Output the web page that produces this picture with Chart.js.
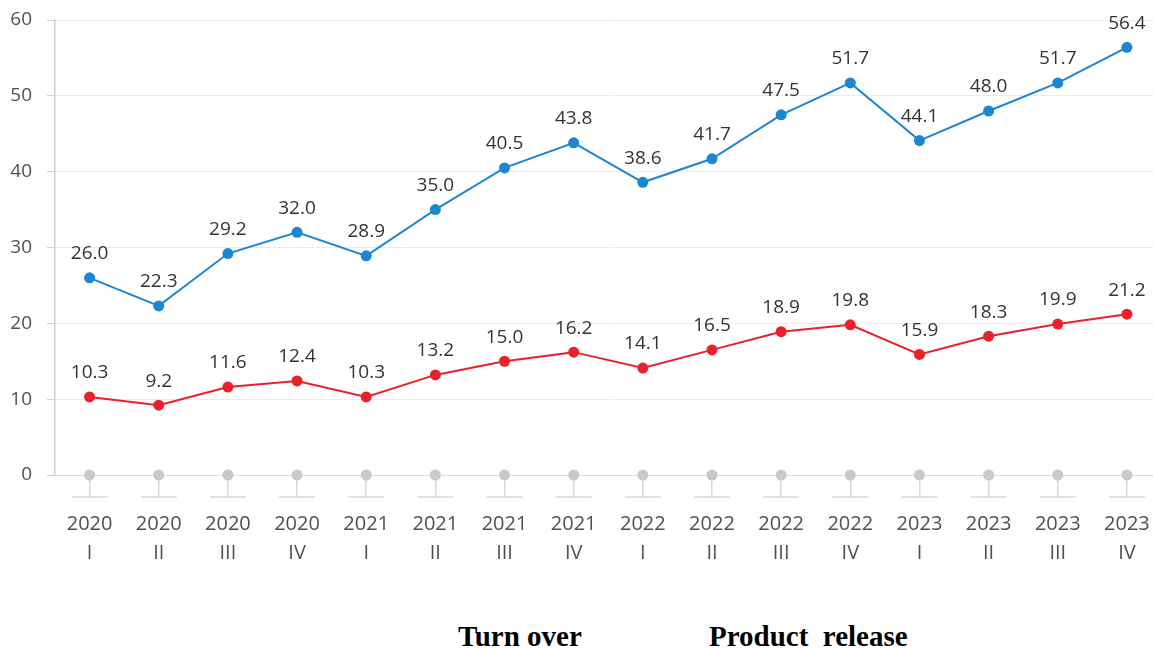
<!DOCTYPE html>
<html>
<head>
<meta charset="utf-8">
<script src="https://cdn.jsdelivr.net/npm/chart.js@4/dist/chart.umd.min.js"></script>
<style>
  html, body { margin: 0; padding: 0; background: #fff; overflow: hidden; }
  #wrap { position: relative; width: 1153px; height: 648px; overflow: hidden; }
  #chart { position: absolute; left: 0; top: 0; }
  .leg { position: absolute; top: 622px; font: bold 29px "Liberation Serif", "Times New Roman", serif;
         line-height: 28px; color: #000; white-space: pre; }
</style>
</head>
<body>
<div id="wrap">
  <canvas id="chart" width="1167" height="575"></canvas>
  <div class="leg" style="left:458px">Turn over</div>
  <div class="leg" style="left:709px">Product  release</div>
</div>
<script>
const years = ['2020', '2020', '2020', '2020', '2021', '2021', '2021', '2021',
               '2022', '2022', '2022', '2022', '2023', '2023', '2023', '2023'];
const quarters = ['I', 'II', 'III', 'IV', 'I', 'II', 'III', 'IV',
                  'I', 'II', 'III', 'IV', 'I', 'II', 'III', 'IV'];
const turnOver = [26.0, 22.3, 29.2, 32.0, 28.9, 35.0, 40.5, 43.8,
                  38.6, 41.7, 47.5, 51.7, 44.1, 48.0, 51.7, 56.4];
const productRelease = [10.3, 9.2, 11.6, 12.4, 10.3, 13.2, 15.0, 16.2,
                        14.1, 16.5, 18.9, 19.8, 15.9, 18.3, 19.9, 21.2];
const baseline = [0, 0, 0, 0, 0, 0, 0, 0, 0, 0, 0, 0, 0, 0, 0, 0];

const labels = years.map((y, i) => [y, quarters[i]]);

// value labels above the coloured points
const valueLabels = {
    id: 'valueLabels',
    afterDatasetsDraw(chart) {
        const ctx = chart.ctx;
        ctx.save();
        ctx.font = '19px "Open Sans"';
        ctx.fillStyle = '#333';
        ctx.textAlign = 'center';
        ctx.textBaseline = 'middle';
        [0, 1].forEach(d => {
            const meta = chart.getDatasetMeta(d);
            meta.data.forEach((pt, i) => {
                ctx.fillText(chart.data.datasets[d].data[i].toFixed(1), pt.x, pt.y - 24);
            });
        });
        ctx.restore();
    }
};

// little caps under each x tick stem
const tickCaps = {
    id: 'tickCaps',
    afterDraw(chart) {
        const ctx = chart.ctx;
        const x = chart.scales.x;
        const y = chart.chartArea.bottom + 22;
        ctx.save();
        ctx.strokeStyle = '#d9d9d9';
        ctx.lineWidth = 1.5;
        x.ticks.forEach((t, i) => {
            const px = x.getPixelForTick(i);
            ctx.beginPath();
            ctx.moveTo(px - 18, y);
            ctx.lineTo(px + 18, y);
            ctx.stroke();
        });
        ctx.restore();
    }
};

new Chart(document.getElementById('chart'), {
    type: 'line',
    data: {
        labels: labels,
        datasets: [{
            label: 'Turn over',
            data: turnOver,
            borderColor: '#1b86d1',
            backgroundColor: '#1b86d1',
            borderWidth: 2,
            pointRadius: 5.5,
            pointHoverRadius: 5.5,
            pointBorderWidth: 0,
            tension: 0,
            clip: false
        }, {
            label: 'Product release',
            data: productRelease,
            borderColor: '#e8222b',
            backgroundColor: '#e8222b',
            borderWidth: 2,
            pointRadius: 5.5,
            pointHoverRadius: 5.5,
            pointBorderWidth: 0,
            tension: 0,
            clip: false
        }, {
            label: 'base',
            data: baseline,
            showLine: false,
            backgroundColor: '#c9c9c9',
            borderColor: '#c9c9c9',
            pointRadius: 5.5,
            pointBorderWidth: 0,
            clip: false
        }]
    },
    plugins: [valueLabels, tickCaps],
    options: {
        responsive: false,
        animation: false,
        layout: { padding: { top: 20, left: 0, right: 0, bottom: 0 } },
        plugins: {
            legend: { display: false },
            tooltip: { enabled: false }
        },
        scales: {
            x: {
                offset: true,
                afterFit(scale) {
                    scale.height = 100;
                    scale.paddingLeft = 0;
                    scale.paddingRight = 0;
                },
                grid: {
                    offset: false,
                    drawOnChartArea: false,
                    drawTicks: true,
                    tickLength: 22,
                    color: '#d9d9d9',
                    lineWidth: 1.5
                },
                border: { color: '#dcdcdc', width: 1 },
                ticks: {
                    color: '#505050',
                    font: { family: 'Open Sans', size: 20, lineHeight: 1.48 },
                    padding: 12,
                    maxRotation: 0,
                    autoSkip: false
                }
            },
            y: {
                min: 0,
                max: 60,
                afterFit(scale) {
                    scale.width = 55;
                    scale.paddingTop = 0;
                    scale.paddingBottom = 0;
                },
                grid: {
                    color: '#ebebeb',
                    tickLength: 8,
                    tickColor: '#d0d0d0'
                },
                border: { color: '#cfcfcf', width: 1.5 },
                ticks: {
                    stepSize: 10,
                    color: '#505050',
                    padding: 15,
                    font: { family: 'Open Sans', size: 19 }
                }
            }
        }
    }
});
</script>
</body>
</html>
